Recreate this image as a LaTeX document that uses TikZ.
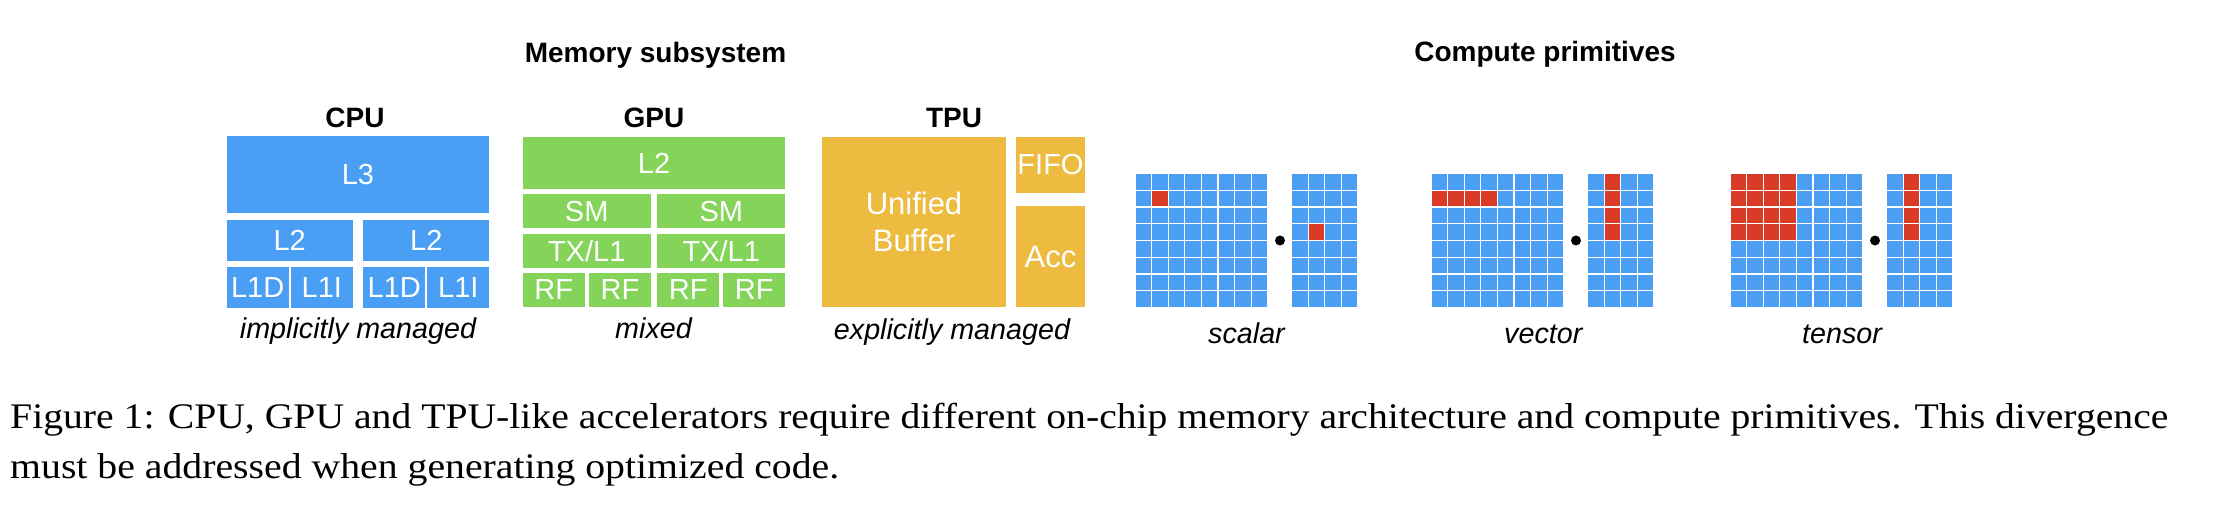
\documentclass[tikz,border=0pt]{standalone}
\usepackage{fontspec}
\usepackage{graphicx}
\setmainfont{Liberation Serif}
\newfontfamily\sansf{Liberation Sans}
\definecolor{cblue}{HTML}{4A9FF5}
\definecolor{cgreen}{HTML}{84D45A}
\definecolor{cyellow}{HTML}{EDBB40}
\definecolor{cred}{HTML}{DA3B26}
\newcommand\panel[7]{%
  \pgfmathsetmacro\bw{#5-#3}\pgfmathsetmacro\bh{#6-#4}%
  \node[#1, minimum width=\bw pt, minimum height=\bh pt] (#2) at ({(#3+#5)/2},{(#4+#6)/2}) {#7};}
% x0 y0 cols rows pitchx pitchy
\newcommand\cellgrid[6]{%
  \foreach \ci in {1,...,#3}{\foreach \ri in {1,...,#4}{%
    \fill[cblue] ({#1+(\ci-1)*#5},{#2+(\ri-1)*#6}) rectangle ++({#5-1.2},{#6-1.2});}}}
% x0 y0 pitchx pitchy col row
\newcommand\redcell[6]{%
  \fill[cred] ({#1+#5*#3},{#2+#6*#4}) rectangle ++({#3-1.2},{#4-1.2});}
\tikzset{
  lbl/.style={inner sep=0pt,outer sep=0pt,text=white,font=\sansf\fontsize{29}{33}\selectfont},
  cpub/.style={lbl,fill=cblue},
  gpub/.style={lbl,fill=cgreen},
  tpub/.style={lbl,fill=cyellow,font=\sansf\fontsize{31}{37}\selectfont,align=center},
  ttl/.style={inner sep=0pt,anchor=base,font=\sansf\bfseries\fontsize{28}{32}\selectfont},
  note/.style={inner sep=0pt,anchor=base,font=\sansf\itshape\fontsize{28.7}{32}\selectfont},
  capt/.style={inner sep=0pt,anchor=base west,font=\fontsize{36}{43}\selectfont},
  mdot/.style={circle,fill=black,inner sep=0pt,minimum size=10pt},
}
\def\px{16.58}
\def\py{16.75}
\begin{document}
\begin{tikzpicture}[x=1pt,y=-1pt]
\useasboundingbox[fill=white] (0,0) rectangle (2220,508);
% headings
\node[ttl] (mem) at (655.5,62.5) {Memory subsystem};
\node[ttl] (comp) at (1545,62) {Compute primitives};
\node[ttl] (cpu) at (355,128) {CPU};
\node[ttl] (gpu) at (654,128) {GPU};
\node[ttl] (tpu) at (954,128) {TPU};
% CPU
\panel{cpub}{l3}{226.7}{136}{489.3}{213.3}{L3}
\panel{cpub}{cl2a}{226.7}{220}{352.7}{261}{L2}
\panel{cpub}{cl2b}{363.3}{220}{489.3}{261}{L2}
\panel{cpub}{l1da}{226.7}{267.3}{288.7}{307.7}{L1D}
\panel{cpub}{l1ia}{291}{267.3}{352.7}{307.7}{L1I}
\panel{cpub}{l1db}{363.3}{267.3}{425.3}{307.7}{L1D}
\panel{cpub}{l1ib}{427.3}{267.3}{489.3}{307.7}{L1I}
% GPU
\panel{gpub}{gl2}{522.7}{137.3}{785.3}{189.3}{L2}
\panel{gpub}{sma}{522.7}{194.3}{650.7}{228.3}{SM}
\panel{gpub}{smb}{657.3}{194.3}{785.3}{228.3}{SM}
\panel{gpub}{txa}{522.7}{234}{650.7}{268}{TX/L1}
\panel{gpub}{txb}{657.3}{234}{785.3}{268}{TX/L1}
\panel{gpub}{rfa}{522.7}{273.3}{584.7}{306.7}{RF}
\panel{gpub}{rfb}{589.3}{273.3}{650.7}{306.7}{RF}
\panel{gpub}{rfc}{657.3}{273.3}{719.3}{306.7}{RF}
\panel{gpub}{rfd}{723.3}{273.3}{785.3}{306.7}{RF}
% TPU
\panel{tpub}{ub}{822}{137}{1006}{307}{Unified\\Buffer}
\panel{tpub}{fifo}{1016}{137}{1085}{193}{\fontsize{29}{33}\selectfont FIFO}
\panel{tpub}{acc}{1016}{206}{1085}{307}{Acc}
% memory notes
\node[note] (n1) at (358,338) {implicitly managed};
\node[note] (n2) at (653.5,338) {mixed};
\node[note] (n3) at (952,339) {explicitly managed};
% scalar
\cellgrid{1135.7}{174}{8}{8}{\px}{\py}
\cellgrid{1292.3}{174}{4}{8}{\px}{\py}
\redcell{1135.7}{174}{\px}{\py}{1}{1}
\redcell{1292.3}{174}{\px}{\py}{1}{3}
\node[mdot] (d1) at (1280,240.5) {};
% vector
\cellgrid{1431.7}{174}{8}{8}{\px}{\py}
\cellgrid{1588.3}{174}{4}{8}{\px}{\py}
\foreach \k in {0,...,3}{\redcell{1431.7}{174}{\px}{\py}{\k}{1}\redcell{1588.3}{174}{\px}{\py}{1}{\k}}
\node[mdot] (d2) at (1576,240.5) {};
% tensor
\cellgrid{1730.7}{174}{8}{8}{\px}{\py}
\cellgrid{1887.3}{174}{4}{8}{\px}{\py}
\foreach \k in {0,...,3}{\foreach \m in {0,...,3}{\redcell{1730.7}{174}{\px}{\py}{\k}{\m}}\redcell{1887.3}{174}{\px}{\py}{1}{\k}}
\node[mdot] (d3) at (1875,240.5) {};
% compute notes
\node[note] (s1) at (1246.5,343.5) {scalar};
\node[note] (s2) at (1543.3,343.5) {vector};
\node[note] (s3) at (1842,343.5) {tensor};
% caption
\node[capt] (cap1) at (10,428) {\resizebox{2158pt}{\height}{Figure 1: CPU, GPU and TPU-like accelerators require different on-chip memory architecture and compute primitives. This divergence}};
\node[capt] (cap2) at (10,478) {\resizebox{829pt}{\height}{must be addressed when generating optimized code.}};
\end{tikzpicture}
\end{document}
